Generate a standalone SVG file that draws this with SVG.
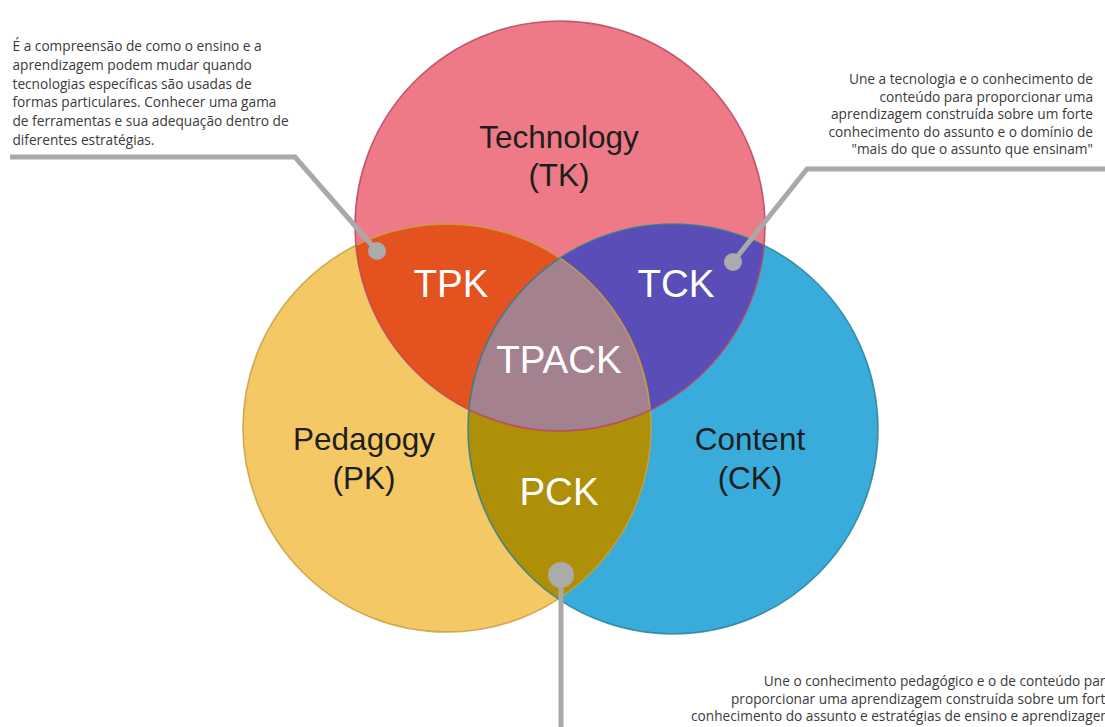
<svg xmlns="http://www.w3.org/2000/svg" width="1105" height="727" viewBox="0 0 1105 727">
<style>
.big{font-family:"Liberation Sans",Arial,sans-serif;font-size:31.5px;fill:#1e1e1e;text-anchor:middle}
.lbl{font-family:"Liberation Sans",Arial,sans-serif;font-size:38.5px;fill:#ffffff;text-anchor:middle}
.note{font-family:"Open Sans","Noto Sans",sans-serif;font-size:13.7px;fill:#3a3a3a}
.conn{fill:none;stroke:#a9a9a9;stroke-width:5;stroke-linejoin:miter}
.dot{fill:#ababab}
</style>
<defs>
<clipPath id="cT"><circle cx="560" cy="226" r="205"/></clipPath>
<clipPath id="cP"><circle cx="447" cy="428" r="204"/></clipPath>
<clipPath id="cC"><circle cx="673" cy="428" r="204"/></clipPath>
<clipPath id="cTP" clip-path="url(#cT)"><circle cx="447" cy="428" r="204"/></clipPath>
</defs>
<rect width="1105" height="727" fill="#ffffff"/>
<g id="pedagogy">
<circle cx="447" cy="428" r="204" fill="#f3c865"/>
</g>
<g id="content">
<circle cx="673" cy="429" r="205" fill="#3aacdc"/>
</g>
<g id="technology">
<circle cx="560" cy="226" r="205" fill="#ee7a87"/>
</g>
<g id="tpk">
<circle cx="447" cy="428" r="204" fill="#e4521f" clip-path="url(#cT)"/>
</g>
<g id="tck">
<circle cx="673" cy="429" r="205" fill="#5a4db8" clip-path="url(#cT)"/>
</g>
<g id="pck">
<circle cx="673" cy="429" r="205" fill="#ad9008" clip-path="url(#cP)"/>
</g>
<g id="tpack">
<circle cx="673" cy="429" r="205" fill="#a4818f" clip-path="url(#cTP)"/>
</g>
<g id="outlines" fill="none" stroke-width="1.6">
<circle cx="447" cy="428" r="204" stroke="#c9a03e" stroke-opacity="0.85"/>
<circle cx="673" cy="429" r="205" stroke="#2a7f8f" stroke-opacity="0.8"/>
<circle cx="560" cy="226" r="205" stroke="#b8465f" stroke-opacity="0.85"/>
</g>
<g id="labels">
<text class="big" x="559" y="148">Technology</text>
<text class="big" x="559" y="186">(TK)</text>
<text class="big" x="364" y="450">Pedagogy</text>
<text class="big" x="364" y="489">(PK)</text>
<text class="big" x="750" y="450">Content</text>
<text class="big" x="750" y="489">(CK)</text>
<text class="lbl" x="451" y="297">TPK</text>
<text class="lbl" x="676" y="297">TCK</text>
<text class="lbl" x="559" y="373">TPACK</text>
<text class="lbl" x="559" y="505">PCK</text>
</g>
<g id="connectors">
<polyline class="conn" points="10,157 295,157 377,251"/>
<circle class="dot" cx="377" cy="251" r="9"/>
<polyline class="conn" points="1105,169 807,169 733,262"/>
<circle class="dot" cx="733" cy="262" r="9"/>
<line class="conn" x1="561" y1="575" x2="561" y2="727"/>
<circle class="dot" cx="561" cy="575" r="13"/>
</g>
<g id="note-tpk">
<text class="note" x="12.5" y="51">É a compreensão de como o ensino e a</text>
<text class="note" x="12.5" y="69.8">aprendizagem podem mudar quando</text>
<text class="note" x="12.5" y="88.6">tecnologias específicas são usadas de</text>
<text class="note" x="12.5" y="107.4">formas particulares. Conhecer uma gama</text>
<text class="note" x="12.5" y="126.2">de ferramentas e sua adequação dentro de</text>
<text class="note" x="12.5" y="145">diferentes estratégias.</text>
</g>
<g id="note-tck" text-anchor="end">
<text class="note" x="1093" y="84">Une a tecnologia e o conhecimento de</text>
<text class="note" x="1093" y="101.5">conteúdo para proporcionar uma</text>
<text class="note" x="1093" y="119">aprendizagem construída sobre um forte</text>
<text class="note" x="1093" y="136.5">conhecimento do assunto e o domínio de</text>
<text class="note" x="1093" y="154">"mais do que o assunto que ensinam"</text>
</g>
<g id="note-pck" text-anchor="end">
<text class="note" x="1113" y="686">Une o conhecimento pedagógico e o de conteúdo para</text>
<text class="note" x="1113" y="703.5">proporcionar uma aprendizagem construída sobre um forte</text>
<text class="note" x="1113" y="721">conhecimento do assunto e estratégias de ensino e aprendizagem</text>
</g>
</svg>
